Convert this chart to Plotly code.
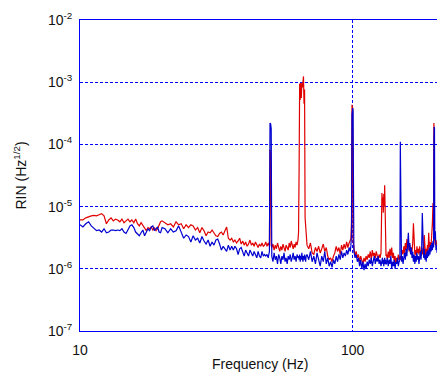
import math
import plotly.graph_objects as go

# ---- data (RIN values in units of 1e-6 /sqrt(Hz)) ----
freq_a = [10.0, 10.25, 10.5, 10.75, 11.0, 11.25, 11.5, 11.75, 12.0, 12.25, 12.5, 12.75, 13.0, 13.25,
          13.5, 13.75, 14.0, 14.25, 14.5, 14.75, 15.0, 15.25, 15.5, 15.75, 16.0, 16.25, 16.5, 16.75,
          17.0, 17.25, 17.5, 17.75, 18.0, 18.25, 18.5, 18.75, 19.0, 19.25, 19.5, 19.75, 20.0]
red_a = [6.1, 6.1, 6.6, 6.9, 7.1, 7.2, 7.1, 7.4, 7.7, 7.1, 5.3, 6.1, 6.6, 5.9, 6.3, 6.1, 5.7, 6.3,
         5.5, 5.9, 6.3, 5.7, 6.1, 5.5, 6.3, 5.3, 4.9, 5.5, 4.9, 4.6, 4.1, 4.6, 4.4, 4.7, 4.2, 4.6,
         4.1, 4.4, 4.9, 5.7, 5.9]
blue_a = [5.1, 4.7, 5.3, 5.7, 4.9, 4.4, 4.1, 4.2, 3.9, 4.4, 3.8, 3.9, 4.2, 4.2, 4.1, 4.2, 4.1, 4.4,
          3.9, 3.7, 4.4, 4.9, 5.1, 4.6, 3.9, 3.7, 3.4, 3.8, 4.2, 3.4, 3.8, 4.4, 4.1, 4.7, 4.9, 4.1,
          4.4, 4.7, 3.9, 3.8, 4.6]

freq_b = [20.5, 21.0, 21.5, 22.0, 22.5, 23.0, 23.5, 24.0, 24.5, 25.0, 25.5, 26.0, 26.5, 27.0, 27.5,
          28.0, 28.5, 29.0, 29.5, 30.0, 30.5, 31.0, 31.5, 32.0, 32.5, 33.0, 33.5, 34.0, 34.5, 35.0,
          35.5, 36.0, 36.5, 37.0, 37.5, 38.0, 38.5, 39.0, 39.5, 40.0, 40.5, 41.0, 41.5, 42.0, 42.5,
          43.0, 43.5, 44.0, 44.5, 45.0, 45.5, 46.0, 46.5, 47.0, 47.5, 48.0, 48.5, 49.0, 49.5]
red_b = [5.5, 5.1, 5.3, 4.7, 5.7, 5.1, 5.3, 4.4, 5.1, 4.6, 5.1, 4.9, 4.2, 4.6, 3.8, 4.6, 4.1, 3.4,
         3.9, 3.8, 4.2, 3.8, 3.4, 3.3, 3.7, 3.9, 3.5, 4.1, 4.7, 3.1, 2.9, 3.1, 2.7, 2.9, 2.6, 2.8,
         3.1, 2.5, 2.8, 2.4, 2.7, 2.3, 2.5, 2.9, 2.4, 2.6, 2.3, 2.7, 2.4, 2.2, 2.5, 2.3, 2.6, 2.3,
         2.4, 2.7, 2.3, 2.6, 2.3]
blue_b = [4.4, 3.8, 4.4, 3.9, 4.1, 4.9, 3.8, 3.1, 3.5, 3.3, 2.7, 3.4, 2.9, 3.1, 2.6, 3.3, 2.8, 2.5,
          2.9, 2.3, 2.7, 2.4, 2.9, 3.0, 2.5, 2.0, 2.3, 2.1, 1.9, 2.4, 2.0, 2.3, 2.0, 2.3, 2.1, 1.7,
          2.1, 2.2, 1.9, 1.6, 2.0, 1.8, 1.6, 2.0, 1.8, 1.6, 1.9, 1.7, 1.5, 1.9, 1.6, 1.5, 1.9, 1.6,
          1.7, 1.6, 1.7, 1.5, 1.9]

freq_c = [49.75, 50.0, 50.25, 50.5, 51.0, 51.5, 52.0, 52.5, 53.0, 53.5, 54.0, 54.5, 55.0, 55.5, 56.0,
          56.5, 57.0, 57.5, 58.0, 58.5, 59.0, 59.5, 60.0, 60.5, 61.0, 61.5, 62.0, 62.5, 63.0]
red_c = [82, 70, 2.4, 2.2, 2.5, 2.0, 2.4, 2.1, 2.6, 2.2, 1.9, 2.3, 2.0, 2.5, 2.1, 1.9, 2.4, 2.2, 2.0,
         2.6, 2.2, 2.8, 2.3, 2.1, 2.5, 2.2, 2.7, 2.4, 2.9]
blue_c = [220, 215, 180, 1.6, 1.3, 1.8, 1.4, 1.6, 1.2, 1.7, 1.5, 1.2, 1.6, 1.4, 1.8, 1.3, 1.5, 1.2,
          1.6, 1.4, 1.7, 1.3, 1.5, 1.8, 1.4, 1.6, 1.3, 1.7, 1.5]

freq_d = [63.3, 63.6, 63.9, 64.2, 64.5, 64.8, 65.1, 65.4, 65.7, 66.0, 66.3, 66.6, 66.9, 67.2, 67.5]
red_d = [3.8, 40, 950, 520, 980, 560, 960, 820, 1000, 1240, 450, 760, 6.6, 5.0, 3.3]
blue_d = [1.6, 1.4, 1.7, 1.3, 1.6, 1.4, 1.8, 1.5, 1.3, 1.6, 1.4, 1.7, 1.5, 1.3, 1.6]

freq_e = [68, 69, 70, 71, 72, 73, 74, 75, 76, 77, 78, 79, 80, 81, 82, 83, 84, 85, 86, 87, 88, 89,
          90, 91, 92, 93, 94, 95, 96, 97, 98]
red_e = [2.4, 2.1, 2.6, 1.8, 1.7, 2.2, 1.9, 2.3, 1.8, 2.1, 2.5, 1.9, 2.2, 1.6, 1.4, 1.5, 1.3, 1.6,
         1.8, 2.3, 1.9, 2.2, 1.7, 2.4, 2.0, 2.5, 2.1, 2.7, 2.2, 2.6, 2.9]
blue_e = [1.7, 1.4, 1.9, 1.3, 1.6, 1.2, 1.8, 1.4, 1.1, 1.6, 1.3, 1.9, 1.2, 1.5, 1.1, 1.3, 1.05, 1.4,
          1.2, 1.6, 1.3, 1.7, 1.4, 1.9, 1.5, 1.8, 1.6, 2.0, 1.7, 2.2, 1.9]

freq_f = [98.5, 99.0, 99.4, 99.7, 100.0, 100.3, 100.6]
red_f = [3.0, 5.5, 433, 420, 380, 2.8, 2.6]
blue_f = [2.4, 3.5, 300, 383, 383, 350, 3.0]

freq_g1 = [101, 102, 103, 104, 105, 106, 107, 108, 109, 110, 111, 112, 113, 114, 115, 116, 117, 118,
           119, 120, 121, 122, 123, 124, 125, 126, 127]
red_g1 = [2.2, 1.6, 1.9, 1.5, 1.7, 1.3, 1.6, 1.4, 1.2, 1.5, 1.3, 1.6, 1.4, 1.7, 1.5, 1.9, 1.4, 2.0,
          1.6, 1.8, 1.5, 1.9, 1.6, 1.4, 1.7, 1.5, 1.8]
blue_g1 = [1.9, 1.5, 1.7, 1.3, 1.5, 1.1, 1.4, 1.0, 1.3, 0.95, 1.2, 1.0, 1.3, 1.1, 1.4, 1.2, 1.5, 1.1,
           1.3, 1.6, 1.2, 1.5, 1.3, 1.6, 1.2, 1.4, 1.1]

freq_g2 = [128, 128.5, 129, 129.5, 130, 130.5, 131, 131.5, 132, 132.5]
red_g2 = [16.5, 12, 14, 8, 16, 10, 22, 7, 5.5, 1.6]
blue_g2 = [1.3, 1.5, 1.2, 1.4, 1.1, 1.3, 1.5, 1.2, 1.4, 1.2]

freq_g3 = [133, 134, 135, 136, 137, 138, 139, 140, 141, 142, 143, 144, 145, 146, 147, 148, 149,
           149.5, 150.0]
red_g3 = [1.7, 1.4, 1.9, 1.5, 2.1, 1.6, 2.2, 1.5, 1.8, 1.3, 1.6, 1.2, 1.5, 1.3, 1.7, 1.4, 1.5,
          1.6, 1.4]
blue_g3 = [1.2, 1.5, 1.1, 1.4, 1.2, 1.6, 1.0, 1.3, 1.1, 1.4, 1.0, 1.3, 1.2, 1.5, 1.1, 1.3, 1.4,
           110, 10]

freq_g4 = [151, 152, 153, 154, 155, 156, 157, 158, 159, 160, 161, 162, 163, 164, 165, 166, 167, 168,
           169, 170, 171, 172, 173, 174, 175, 176, 177, 178, 179, 180, 181, 182, 183, 184, 185, 186,
           187, 188, 189, 190, 191, 192, 193, 194, 195, 196, 197, 198]
red_g4 = [1.6, 2.0, 1.7, 2.3, 1.8, 2.6, 2.0, 3.0, 2.2, 2.7, 1.9, 2.4, 1.8, 2.2, 1.9, 2.6, 5.4, 2.1,
          1.7, 2.0, 1.6, 2.3, 1.8, 2.1, 1.7, 2.3, 1.9, 1.6, 2.0, 1.7, 2.2, 1.8, 3.5, 1.9, 1.6, 2.1,
          1.7, 2.4, 1.9, 3.8, 2.2, 2.7, 2.0, 2.5, 3.2, 5.5, 11.4, 4.0]
blue_g4 = [1.3, 1.6, 1.2, 1.5, 1.8, 1.4, 2.1, 1.6, 2.4, 3.8, 2.0, 2.6, 1.7, 2.2, 1.5, 1.9, 1.3, 1.7,
           1.2, 1.6, 1.3, 1.8, 1.4, 1.6, 1.2, 1.5, 1.9, 1.4, 2.0, 7.9, 1.8, 1.5, 2.1, 1.4, 1.7, 1.3,
           1.9, 1.5, 2.0, 1.6, 2.2, 1.7, 2.4, 1.9, 2.6, 2.0, 2.8, 2.2]

freq_g5 = [198.5, 199.0, 199.5, 200.0, 201, 202, 203, 204, 205, 206, 207, 208, 209]
red_g5 = [220, 150, 3.0, 2.8, 2.4, 2.9, 2.3, 2.7, 2.1, 2.6, 2.2, 2.5, 2.3]
blue_g5 = [120, 190, 185, 3.0, 4.0, 2.0, 2.4, 1.8, 2.2, 1.7, 2.1, 1.9, 2.0]

x_tick_vals = [10, 100]
x_tick_text = ["10", "100"]
y_tick_vals = [1e-7, 1e-6, 1e-5, 1e-4, 1e-3, 1e-2]
y_tick_text = ["10<sup>-7</sup>", "10<sup>-6</sup>", "10<sup>-5</sup>", "10<sup>-4</sup>",
               "10<sup>-3</sup>", "10<sup>-2</sup>"]
x_title = "Frequency (Hz)"
y_title = "RIN (Hz<sup>1/2</sup>)"

freq_segs = [freq_a, freq_b, freq_c, freq_d, freq_e, freq_f, freq_g1, freq_g2, freq_g3, freq_g4, freq_g5]
red_segs = [red_a, red_b, red_c, red_d, red_e, red_f, red_g1, red_g2, red_g3, red_g4, red_g5]
blue_segs = [blue_a, blue_b, blue_c, blue_d, blue_e, blue_f, blue_g1, blue_g2, blue_g3, blue_g4, blue_g5]

freq, red, blue = [], [], []
for f, r, b in zip(freq_segs, red_segs, blue_segs):
    n = min(len(f), len(r), len(b))
    freq += f[:n]
    red += [v * 1e-6 for v in r[:n]]
    blue += [v * 1e-6 for v in b[:n]]

BLUE = "#0000ff"
fig = go.Figure()
fig.add_trace(go.Scatter(x=freq, y=red, mode="lines", line=dict(color="#e00000", width=1.2),
                         name="red"))
fig.add_trace(go.Scatter(x=freq, y=blue, mode="lines", line=dict(color="#0000d0", width=1.2),
                         name="blue"))

font = "Liberation Sans, Arial, sans-serif"
fig.update_xaxes(type="log", range=[1, math.log10(209)], tickvals=x_tick_vals,
                 ticktext=x_tick_text, ticklabelstandoff=6, automargin=False,
                 showgrid=True, gridcolor=BLUE, gridwidth=1, griddash="3px,2px",
                 showline=True, linecolor=BLUE, linewidth=1, mirror=True,
                 ticks="", zeroline=False,
                 tickfont=dict(family=font, size=14, color="#111"))
fig.update_yaxes(type="log", range=[-7, -2], tickvals=y_tick_vals, ticktext=y_tick_text,
                 ticklabelstandoff=4, automargin=False,
                 showgrid=True, gridcolor=BLUE, gridwidth=1, griddash="3px,2px",
                 showline=True, linecolor=BLUE, linewidth=1, mirror=True,
                 ticks="", zeroline=False,
                 tickfont=dict(family=font, size=14, color="#111"))
fig.add_annotation(text=x_title, xref="paper", yref="paper", x=0.5, y=0, yshift=-33,
                   xanchor="center", yanchor="middle", showarrow=False,
                   font=dict(family=font, size=14, color="#111"))
fig.add_annotation(text=y_title, xref="paper", yref="paper", x=0, y=0.5, xshift=-60,
                   xanchor="center", yanchor="middle", showarrow=False, textangle=-90,
                   font=dict(family=font, size=14, color="#111"))
# page body has an 8px margin, so the figure is sized and padded to land the plot area
# at the same window position as the reference
fig.update_layout(
    width=437, height=369,
    margin=dict(l=72, r=5, t=12, b=46, autoexpand=False),
    paper_bgcolor="white", plot_bgcolor="white",
    showlegend=False,
)
fig.write_html("out.html")
